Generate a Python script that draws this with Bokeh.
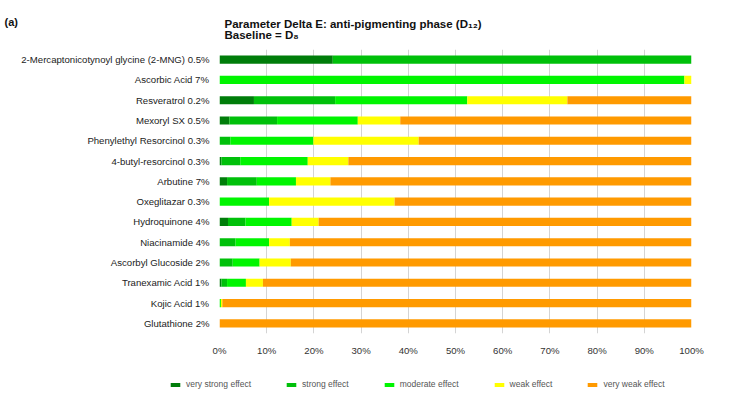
from bokeh.plotting import figure
from bokeh.layouts import column
from bokeh.models import (FactorRange, Range1d, FixedTicker, PrintfTickFormatter,
                          Label, Legend, LegendItem)
from bokeh.embed import file_html
from bokeh.resources import INLINE

names = ["2-Mercaptonicotynoyl glycine (2-MNG) 0.5%", "Ascorbic Acid 7%", "Resveratrol 0.2%",
         "Mexoryl SX 0.5%", "Phenylethyl Resorcinol 0.3%", "4-butyl-resorcinol 0.3%",
         "Arbutine 7%", "Oxeglitazar 0.3%", "Hydroquinone 4%", "Niacinamide 4%",
         "Ascorbyl Glucoside 2%", "Tranexamic Acid 1%", "Kojic Acid 1%", "Glutathione 2%"]

very_strong = [24.0, 0, 7.3, 2.1, 0, 0.4, 1.6, 0, 1.8, 0, 0, 0.4, 0, 0]
strong = [76.0, 0, 17.2, 10.1, 2.3, 4.0, 6.3, 0, 3.7, 3.4, 2.8, 1.2, 0, 0]
moderate = [0, 98.5, 28.0, 17.1, 17.6, 14.3, 8.3, 10.5, 9.8, 7.1, 5.7, 4.0, 0.3, 0]
weak = [0, 1.5, 21.2, 9.0, 22.3, 8.6, 7.3, 26.6, 5.7, 4.4, 6.6, 3.6, 0.3, 0]
very_weak = [0, 0, 26.3, 61.7, 57.8, 72.7, 76.5, 62.9, 79.0, 85.1, 84.9, 90.8, 99.4, 100.0]

series = ["very_strong", "strong", "moderate", "weak", "very_weak"]
series_labels = ["very strong effect", "strong effect", "moderate effect", "weak effect", "very weak effect"]
colors = ["#007d0a", "#00c00a", "#00f500", "#ffff00", "#ff9a00"]
x_ticks = [0, 10, 20, 30, 40, 50, 60, 70, 80, 90, 100]

data = dict(name=names, very_strong=very_strong, strong=strong, moderate=moderate,
            weak=weak, very_weak=very_weak)

FONT = "Liberation Sans"

# main chart
p = figure(width=740, height=366, output_backend="svg", toolbar_location=None,
           y_range=FactorRange(factors=list(reversed(names))),
           x_range=Range1d(0, 100),
           min_border_left=219, min_border_right=49, min_border_top=49, min_border_bottom=33)
p.outline_line_color = None

renderers = p.hbar_stack(series, y="name", height=0.4, color=colors, source=data,
                         line_color=None)

p.xaxis.ticker = FixedTicker(ticks=x_ticks)
p.xaxis.formatter = PrintfTickFormatter(format="%d%%")
p.xaxis.axis_line_color = None
p.xaxis.major_tick_line_color = None
p.xaxis.minor_tick_line_color = None
p.xaxis.major_label_standoff = 5
p.xaxis.major_label_text_align = "left"
p.xaxis.major_label_text_font = FONT
p.xaxis.major_label_text_font_size = "9.6px"
p.xaxis.major_label_text_color = "#333333"

p.yaxis.axis_line_color = None
p.yaxis.major_tick_line_color = None
p.yaxis.minor_tick_line_color = None
p.yaxis.major_label_standoff = 4
p.yaxis.major_label_text_font = FONT
p.yaxis.major_label_text_font_size = "9.6px"
p.yaxis.major_label_text_color = "#222222"

p.ygrid.grid_line_color = None
p.xgrid.grid_line_color = "#d4d4d4"
p.xgrid.grid_line_width = 1

title_style = dict(x_units="canvas", y_units="canvas", text_font=FONT,
                   text_font_style="bold", text_baseline="alphabetic", text_color="#111111")
p.add_layout(Label(x=4, y=21, text="(a)", text_font_size="11px", **title_style), "above")
p.add_layout(Label(x=224, y=23.3, text="Parameter Delta E: anti-pigmenting phase (D\u2081\u2082)",
                   text_font_size="11.5px", **title_style), "above")
p.add_layout(Label(x=224, y=34, text="Baseline = D\u2088",
                   text_font_size="11.5px", **title_style), "above")

# legend strip
p2 = figure(width=740, height=28, output_backend="svg", toolbar_location=None,
            x_range=Range1d(0, 740), y_range=Range1d(0, 28),
            x_axis_location=None, y_axis_location=None,
            min_border_left=0, min_border_right=0, min_border_top=0, min_border_bottom=0)
p2.outline_line_color = None
p2.xgrid.grid_line_color = None
p2.ygrid.grid_line_color = None
for fig in (p, p2):
    if "frame_align" in fig.properties():
        fig.frame_align = False
swatches = [p2.hbar(y=[-50], left=[0], right=[1], height=1, color=c, line_color=None) for c in colors]

legend = Legend(items=[LegendItem(label=lab, renderers=[r]) for lab, r in zip(series_labels, swatches)],
                orientation="horizontal", location=(169, 5),
                spacing=34, glyph_width=12, glyph_height=5, label_standoff=5,
                label_text_font=FONT, label_text_font_size="8.5px", label_text_color="#555555",
                border_line_color=None, background_fill_alpha=0, padding=0, margin=0,
                label_height=10)
p2.add_layout(legend)

open("out.html", "w").write(file_html(column(p, p2, spacing=0), INLINE))
